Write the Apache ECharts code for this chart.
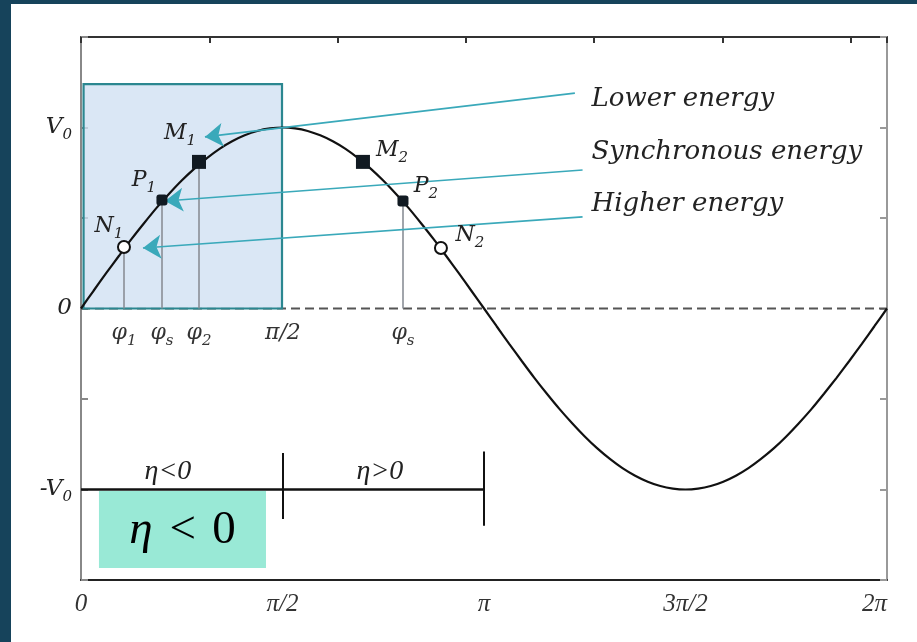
<!DOCTYPE html>
<html>
<head>
<meta charset="utf-8">
<script src="https://cdn.jsdelivr.net/npm/echarts@6/dist/echarts.min.js"></script>
<style>
html,body{margin:0;padding:0;background:#fff;}
#c{width:917px;height:642px;}
</style>
</head>
<body>
<div id="c"></div>
<script>
// ---- data ----
var phase = [0, 0.098, 0.196, 0.295, 0.393, 0.491, 0.589, 0.687, 0.785, 0.884, 0.982, 1.080, 1.178, 1.276, 1.374, 1.473, 1.571,
             1.669, 1.767, 1.865, 1.963, 2.062, 2.160, 2.258, 2.356, 2.454, 2.553, 2.651, 2.749, 2.847, 2.945, 3.043, 3.142,
             3.240, 3.338, 3.436, 3.534, 3.632, 3.731, 3.829, 3.927, 4.025, 4.123, 4.221, 4.320, 4.418, 4.516, 4.614, 4.712,
             4.810, 4.909, 5.007, 5.105, 5.203, 5.301, 5.400, 5.498, 5.596, 5.694, 5.792, 5.890, 5.989, 6.087, 6.185, 6.283];
var voltage = [0, 0.098, 0.195, 0.290, 0.383, 0.471, 0.556, 0.634, 0.707, 0.773, 0.831, 0.882, 0.924, 0.957, 0.981, 0.995, 1,
               0.995, 0.981, 0.957, 0.924, 0.882, 0.831, 0.773, 0.707, 0.634, 0.556, 0.471, 0.383, 0.290, 0.195, 0.098, 0,
               -0.098, -0.195, -0.290, -0.383, -0.471, -0.556, -0.634, -0.707, -0.773, -0.831, -0.882, -0.924, -0.957, -0.981, -0.995, -1,
               -0.995, -0.981, -0.957, -0.924, -0.882, -0.831, -0.773, -0.707, -0.634, -0.556, -0.471, -0.383, -0.290, -0.195, -0.098, 0];

var pointNames = ['N1', 'P1', 'M1', 'M2', 'P2', 'N2'];
var pointPhase = [0.335, 0.631, 0.92, 2.198, 2.51, 2.806];
var pointValue = [0.34, 0.60, 0.81, 0.81, 0.594, 0.334];
var pointKind = ['open', 'sync', 'square', 'square', 'sync', 'open'];

var dropPhase = [0.335, 0.631, 0.92, 2.51];
var dropValue = [0.34, 0.60, 0.81, 0.594];

var phiLabels = ['φ1', 'φs', 'φ2', 'π/2', 'φs'];
var phiPhase = [0.335, 0.631, 0.92, 1.574, 2.51];

var energyLabels = ['Lower energy', 'Synchronous energy', 'Higher energy'];
var energyLabelY = [1.157, 0.865, 0.577];
var arrowFrom = [[3.85, 1.19], [3.91, 0.765], [3.91, 0.506]];
var arrowTo = [[0.966, 0.948], [0.655, 0.594], [0.483, 0.334]];

var xTickLabels = ['0', 'π/2', 'π', '3π/2', '2π'];
var yTickLabels = {'-1': '-V0', '0': '0', '1': 'V0'};

var etaRegions = ['η<0', 'η>0'];
var etaRegionX = [0.678, 2.33];
var etaBoundaries = [Math.PI / 2, Math.PI];
var etaBoundaryLow = [-1.163, -1.2];
var etaBoundaryHigh = [-0.798, -0.79];

var highlightBox = [0.02, 1.567, 0, 1.24];
var etaBox = [0.14, 1.442, -1.434, -1.008];
var etaBoxText = ['η', '<', '0'];

// ---- chart ----
var TEAL = '#3aa9ba';
var SERIF = '"DejaVu Serif", serif';
var NSERIF = '"Liberation Serif", serif';

function sub(label) {
  var head = label.slice(0, label.length - 1), tail = label.slice(-1);
  return '{m|' + head + '}{s|' + tail + '}';
}
function richFor(size, subSize, color) {
  return {
    m: {fontFamily: SERIF, fontStyle: 'italic', fontSize: size, color: color, lineHeight: 30, verticalAlign: 'middle'},
    s: {fontFamily: SERIF, fontStyle: 'italic', fontSize: subSize, color: color, lineHeight: 31, verticalAlign: 'bottom'}
  };
}

var labelOffsets = {N1: [-15, -21], P1: [-18, -20], M1: [-19, -29], M2: [29, -12], P2: [23, -15], N2: [29, -13]};

function markerData(kindWanted) {
  var out = [];
  for (var i = 0; i < pointNames.length; i++) {
    if (pointKind[i] !== kindWanted) continue;
    out.push({
      name: pointNames[i],
      value: [pointPhase[i], pointValue[i]],
      label: {show: true, position: 'inside', offset: labelOffsets[pointNames[i]],
              formatter: sub(pointNames[i]), rich: richFor(22, 15, '#222')}
    });
  }
  return out;
}

function rectRender(fill, stroke, lw, tokens) {
  return function (params, api) {
    var p1 = api.coord([api.value(0), api.value(3)]);
    var p2 = api.coord([api.value(1), api.value(2)]);
    var children = [{
      type: 'rect',
      shape: {x: p1[0], y: p1[1], width: p2[0] - p1[0], height: p2[1] - p1[1]},
      style: {fill: fill, stroke: stroke, lineWidth: lw}
    }];
    if (tokens) {
      children.push({
        type: 'text',
        style: {
          x: (p1[0] + p2[0]) / 2, y: (p1[1] + p2[1]) / 2 + 1,
          text: '{i|' + tokens[0] + '}{o|' + tokens[1] + '}{r|' + tokens[2] + '}',
          align: 'center', verticalAlign: 'middle',
          rich: {
            i: {fontFamily: NSERIF, fontStyle: 'italic', fontSize: 47, fill: '#000', lineHeight: 50},
            o: {fontFamily: NSERIF, fontSize: 47, fill: '#000', padding: [0, 16, 0, 17], lineHeight: 50},
            r: {fontFamily: NSERIF, fontSize: 47, fill: '#000', lineHeight: 50}
          }
        }
      });
    }
    return {type: 'group', children: children};
  };
}

var curve = phase.map(function (x, i) { return [x, voltage[i]]; });

var option = {
  backgroundColor: '#fff',
  animation: false,
  graphic: [
    {type: 'rect', left: 0, top: 0, shape: {width: 11, height: 642}, style: {fill: '#16435b'}, z: 100},
    {type: 'rect', left: 0, top: 0, shape: {width: 917, height: 4}, style: {fill: '#16435b'}, z: 100}
  ],
  grid: {left: 81, right: 30, top: 37, bottom: 62, show: false},
  xAxis: [{
    type: 'value', min: 0, max: 2 * Math.PI, interval: Math.PI / 2,
    axisLine: {show: true, onZero: false, lineStyle: {color: '#222', width: 2}},
    axisTick: {show: false},
    splitLine: {show: false},
    axisLabel: {
      show: true, margin: 12, color: '#333', fontFamily: NSERIF, fontStyle: 'italic', fontSize: 25,
      alignMaxLabel: 'right',
      formatter: function (v) { return xTickLabels[Math.round(v / (Math.PI / 2))]; }
    }
  }, {
    type: 'value', position: 'top', min: 0, max: 2 * Math.PI, interval: 1,
    axisLine: {show: true, onZero: false, lineStyle: {color: '#333', width: 2}},
    axisTick: {show: true, inside: true, length: 6, lineStyle: {color: '#333', width: 2}},
    splitLine: {show: false},
    axisLabel: {show: false}
  }],
  yAxis: [{
    type: 'value', min: -1.5, max: 1.5, interval: 0.5,
    axisLine: {show: true, onZero: false, lineStyle: {color: '#888', width: 2}},
    axisTick: {show: true, inside: true, length: 7, lineStyle: {color: '#888', width: 2}},
    splitLine: {show: false},
    axisLabel: {
      show: true, margin: 9,
      formatter: function (v) {
        var k = String(Math.round(v * 2) / 2);
        var t = yTickLabels[k];
        if (!t) return '';
        if (t === '0') return '{m|0}';
        return sub(t);
      },
      rich: richFor(23, 15, '#222')
    }
  }, {
    type: 'value', position: 'right', min: -1.5, max: 1.5, interval: 0.5,
    axisLine: {show: true, onZero: false, lineStyle: {color: '#999', width: 2}},
    axisTick: {show: true, inside: true, length: 7, lineStyle: {color: '#999', width: 2}},
    splitLine: {show: false},
    axisLabel: {show: false}
  }],
  series: [
    { // dashed zero line
      type: 'line', z: 1, symbol: 'none', silent: true,
      data: [[0, 0], [2 * Math.PI, 0]],
      lineStyle: {color: '#555', width: 2, type: [9, 5]}
    },
    { // highlighted region
      type: 'custom', z: 2, silent: true,
      renderItem: rectRender('rgba(208,224,242,0.78)', '#2b8790', 2.2, null),
      encode: {x: [0, 1], y: [2, 3]},
      data: [highlightBox]
    },
    { // drop lines
      type: 'lines', coordinateSystem: 'cartesian2d', z: 3, silent: true,
      lineStyle: {color: '#8a8f96', width: 1.6, opacity: 1},
      data: dropPhase.map(function (x, i) { return {coords: [[x, 0], [x, dropValue[i]]]}; })
    },
    { // sine curve
      type: 'line', z: 4, symbol: 'none', smooth: 0.2, silent: true,
      data: curve,
      lineStyle: {color: '#111', width: 2.2}
    },
    { // eta axis line
      type: 'line', z: 3, symbol: 'none', silent: true,
      data: [[0, -1], [Math.PI, -1]],
      lineStyle: {color: '#111', width: 2.6}
    },
    { // eta boundaries
      type: 'lines', coordinateSystem: 'cartesian2d', z: 3, silent: true,
      lineStyle: {color: '#111', width: 2, opacity: 1},
      data: etaBoundaries.map(function (x, i) { return {coords: [[x, etaBoundaryLow[i]], [x, etaBoundaryHigh[i]]]}; })
    },
    { // eta box
      type: 'custom', z: 5, silent: true,
      renderItem: rectRender('#99e9d6', null, 0, etaBoxText),
      encode: {x: [0, 1], y: [2, 3]},
      data: [etaBox]
    },
    { // arrows
      type: 'lines', coordinateSystem: 'cartesian2d', z: 6, silent: true,
      symbol: ['none', 'arrow'], symbolSize: [0, 18],
      lineStyle: {color: TEAL, width: 1.6, opacity: 1},
      data: arrowFrom.map(function (p, i) { return {coords: [p, arrowTo[i]]}; })
    },
    { // squares M
      type: 'scatter', z: 7, symbol: 'rect', symbolSize: 14,
      itemStyle: {color: '#111a22', opacity: 1},
      data: markerData('square')
    },
    { // synchronous P
      type: 'scatter', z: 7, symbol: 'roundRect', symbolSize: 11,
      itemStyle: {color: '#111a22', opacity: 1},
      data: markerData('sync')
    },
    { // open circles N
      type: 'scatter', z: 7, symbol: 'emptyCircle', symbolSize: 12,
      itemStyle: {color: '#111', borderColor: '#111', borderWidth: 2, opacity: 1},
      data: markerData('open')
    },
    { // phi labels
      type: 'scatter', z: 8, symbolSize: 0, silent: true,
      itemStyle: {opacity: 1},
      data: phiPhase.map(function (x, i) { return {value: [x, -0.135], name: phiLabels[i]}; }),
      label: {
        show: true, position: 'inside',
        formatter: function (p) { return p.name === 'π/2' ? '{m|π/2}' : sub(p.name); },
        rich: richFor(22, 15, '#333')
      }
    },
    { // energy labels
      type: 'scatter', z: 8, symbolSize: 0, silent: true,
      itemStyle: {opacity: 1},
      data: energyLabels.map(function (t, i) { return {value: [3.98, energyLabelY[i]], name: t}; }),
      label: {
        show: true, position: 'right', distance: 0, formatter: '{b}',
        fontFamily: SERIF, fontStyle: 'italic', fontSize: 26, color: '#222'
      }
    },
    { // eta region labels
      type: 'scatter', z: 8, symbolSize: 0, silent: true,
      itemStyle: {opacity: 1},
      data: etaRegions.map(function (t, i) { return {value: [etaRegionX[i], -0.9], name: t}; }),
      label: {
        show: true, position: 'inside', formatter: '{b}',
        fontFamily: NSERIF, fontStyle: 'italic', fontSize: 28, color: '#222'
      }
    }
  ]
};

var chart = echarts.init(document.getElementById('c'), null, {renderer: 'canvas'});
chart.setOption(option);
</script>
</body>
</html>
